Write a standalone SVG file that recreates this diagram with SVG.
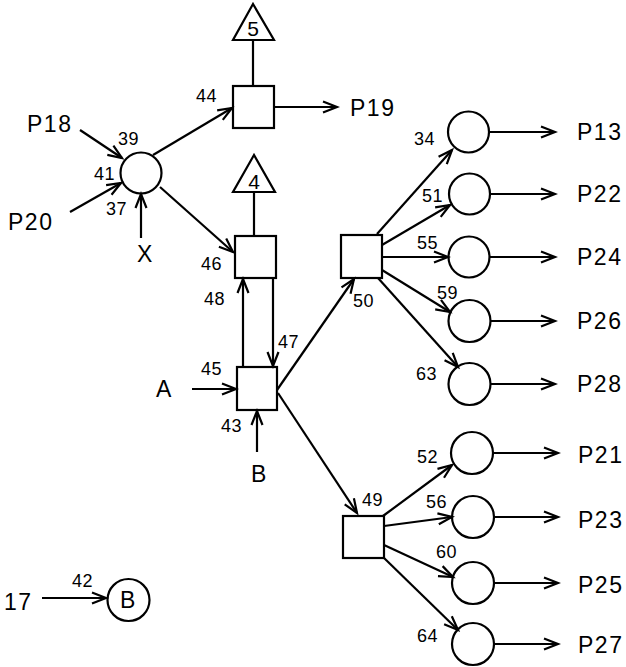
<svg xmlns="http://www.w3.org/2000/svg" width="626" height="667" viewBox="0 0 626 667">
<style>
.n{fill:none;stroke:#000;stroke-width:2.2}
.c{fill:none;stroke:#000;stroke-width:2.2}
.a{marker-end:url(#ah)}
.t{font-family:"Liberation Sans",Arial,sans-serif;fill:#000}
.big{font-size:23px;letter-spacing:1.5px}
.sm{font-size:18px;letter-spacing:0.5px}
.tri{font-size:21px}
</style>
<defs>
<marker id="ah" markerUnits="userSpaceOnUse" markerWidth="18" markerHeight="14" refX="15" refY="7" orient="auto">
<path d="M1,1.5 L15,7 L1,12.5" fill="none" stroke="#000" stroke-width="2.2"/>
</marker>
</defs>
<rect width="626" height="667" fill="#fff"/>
<g id="connectors">
<line class="c a" x1="80" y1="130" x2="122" y2="158"/>
<line class="c a" x1="70" y1="212" x2="121" y2="183"/>
<line class="c a" x1="141" y1="238" x2="141" y2="194"/>
<line class="c a" x1="153" y1="155" x2="232" y2="108"/>
<line class="c a" x1="160" y1="187" x2="233" y2="252"/>
<line class="c" x1="253" y1="40" x2="253" y2="86"/>
<line class="c" x1="254" y1="192" x2="254" y2="236"/>
<line class="c a" x1="274" y1="107" x2="337" y2="107"/>
<line class="c a" x1="243" y1="367" x2="243" y2="279"/>
<line class="c a" x1="273" y1="278" x2="273" y2="366"/>
<line class="c a" x1="192" y1="389" x2="236" y2="389"/>
<line class="c a" x1="257" y1="452" x2="257" y2="411"/>
<line class="c a" x1="277" y1="390" x2="354" y2="279"/>
<line class="c a" x1="278" y1="393" x2="357" y2="513"/>
<line class="c a" x1="377" y1="234" x2="452" y2="150"/>
<line class="c a" x1="382" y1="245" x2="450" y2="205"/>
<line class="c a" x1="382" y1="257" x2="448" y2="257"/>
<line class="c a" x1="382" y1="270" x2="450" y2="312"/>
<line class="c a" x1="378" y1="278" x2="458" y2="367"/>
<line class="c a" x1="383" y1="516" x2="452" y2="465"/>
<line class="c a" x1="384" y1="526" x2="452" y2="517"/>
<line class="c a" x1="384" y1="545" x2="453" y2="577"/>
<line class="c a" x1="383" y1="557" x2="458" y2="630"/>
<line class="c a" x1="489" y1="132" x2="555" y2="132"/>
<line class="c a" x1="490" y1="194" x2="555" y2="194"/>
<line class="c a" x1="490" y1="257" x2="555" y2="257"/>
<line class="c a" x1="490" y1="321" x2="555" y2="321"/>
<line class="c a" x1="490" y1="384" x2="555" y2="384"/>
<line class="c a" x1="493" y1="453" x2="558" y2="453"/>
<line class="c a" x1="494" y1="517" x2="558" y2="517"/>
<line class="c a" x1="494" y1="583" x2="558" y2="583"/>
<line class="c a" x1="494" y1="644" x2="558" y2="644"/>
<line class="c a" x1="42" y1="598" x2="106" y2="598"/>
</g>
<g id="labels-in">
<text class="t big" x="27" y="132">P18</text>
<text class="t big" x="8" y="230">P20</text>
<text class="t big" x="137" y="262">X</text>
<text class="t big" x="156" y="397">A</text>
<text class="t big" x="251" y="482">B</text>
<text class="t big" x="4" y="610">17</text>
<text class="t big" x="350" y="116">P19</text>
</g>
<g id="n39"><circle class="n" cx="141" cy="173" r="20.5"/>
<text class="t sm" x="118" y="145">39</text><text class="t sm" x="94" y="180">41</text><text class="t sm" x="106" y="215">37</text></g>
<g id="n44"><rect class="n" x="233" y="86" width="41" height="42"/><text class="t sm" x="196" y="102">44</text></g>
<g id="t5"><polygon class="n" points="253,4 233,40 274,40"/><text class="t tri" x="253" y="36" text-anchor="middle">5</text></g>
<g id="n46"><rect class="n" x="235" y="236" width="41" height="42"/><text class="t sm" x="201" y="270">46</text></g>
<g id="t4"><polygon class="n" points="254,155 233,192 275,192"/><text class="t tri" x="254" y="189" text-anchor="middle">4</text></g>
<g id="n45"><rect class="n" x="237" y="367" width="40" height="43"/>
<text class="t sm" x="204" y="305">48</text><text class="t sm" x="278" y="348">47</text><text class="t sm" x="201" y="375">45</text><text class="t sm" x="221" y="432">43</text></g>
<g id="n50"><rect class="n" x="341" y="235" width="41" height="43"/><text class="t sm" x="353" y="307">50</text></g>
<g id="n49"><rect class="n" x="343" y="516" width="41" height="42"/><text class="t sm" x="362" y="506">49</text></g>
<g id="n34"><circle class="n" cx="468.5" cy="132" r="20.5"/><text class="t sm" x="414" y="145">34</text><text class="t big" x="577" y="140">P13</text></g>
<g id="n51"><circle class="n" cx="469.5" cy="194" r="20.5"/><text class="t sm" x="422" y="202">51</text><text class="t big" x="577" y="202">P22</text></g>
<g id="n55"><circle class="n" cx="469" cy="257" r="20.5"/><text class="t sm" x="417" y="249">55</text><text class="t big" x="577" y="265">P24</text></g>
<g id="n59"><circle class="n" cx="469.5" cy="321" r="21"/><text class="t sm" x="437" y="299">59</text><text class="t big" x="577" y="329">P26</text></g>
<g id="n63"><circle class="n" cx="469.5" cy="384" r="21"/><text class="t sm" x="416" y="380">63</text><text class="t big" x="577" y="392">P28</text></g>
<g id="n52"><circle class="n" cx="472" cy="453" r="21"/><text class="t sm" x="417" y="463">52</text><text class="t big" x="578" y="463">P21</text></g>
<g id="n56"><circle class="n" cx="473" cy="517" r="21"/><text class="t sm" x="426" y="508">56</text><text class="t big" x="578" y="528">P23</text></g>
<g id="n60"><circle class="n" cx="473" cy="583" r="21"/><text class="t sm" x="436" y="558">60</text><text class="t big" x="578" y="593">P25</text></g>
<g id="n64"><circle class="n" cx="473" cy="644" r="21"/><text class="t sm" x="417" y="642">64</text><text class="t big" x="578" y="653">P27</text></g>
<g id="nB"><circle class="n" cx="128.5" cy="600" r="21"/><text class="t big" x="128.5" y="608" text-anchor="middle">B</text><text class="t sm" x="72" y="587">42</text></g>
</svg>
